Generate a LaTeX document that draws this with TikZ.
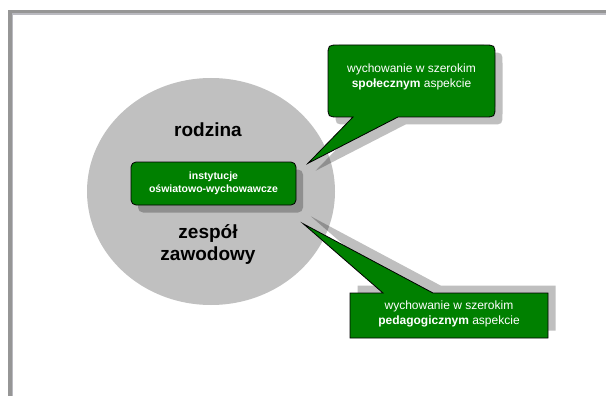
\documentclass[tikz,border=0pt]{standalone}
\usepackage{fontspec}
\setmainfont{Liberation Sans}
\usetikzlibrary{shapes.geometric,shadows}
\definecolor{pgreen}{RGB}{0,128,0}
\definecolor{cgray}{RGB}{192,192,192}
\definecolor{fgray}{RGB}{150,150,150}
\definecolor{flight}{RGB}{186,186,192}
\begin{document}
\begin{tikzpicture}[x=1pt,y=-1pt,
  framebar/.style={fill=fgray},
  framelight/.style={fill=flight},
  bigcircle/.style={ellipse, fill=cgray, draw=none, inner sep=0pt,
    minimum width=248pt, minimum height=227pt},
  shadowfill/.style={fill=black, fill opacity=0.25},
  callout/.style={fill=pgreen, draw=black, line width=0.8pt, line join=miter},
  ctext/.style={anchor=base, text=white, inner sep=0pt,
    font=\fontsize{12}{14}\selectfont},
  biglabel/.style={anchor=base, inner sep=0pt, text=black,
    font=\bfseries\fontsize{19}{22}\selectfont},
  innerbox/.style={rounded corners=5pt, fill=pgreen, draw=black, line width=0.8pt,
    minimum width=165pt, minimum height=43pt, inner sep=0pt, text=white,
    align=center, font=\bfseries\fontsize{10.5}{13.4}\selectfont,
    drop shadow={shadow xshift=7pt, shadow yshift=-7.5pt, fill=black, opacity=0.25}}
]
\useasboundingbox (0,0) rectangle (606,396);
\fill[white] (0,0) rectangle (606,396);
% frame
\fill[framebar] (8,10) rectangle (606,13.5);
\fill[framebar] (8,10) rectangle (12,396);
\fill[framelight] (12,13.5) rectangle (606,15);
\fill[framelight] (12,13.5) rectangle (13.2,396);
% circle
\node[bigcircle] (circ) at (211,191.5) {};
% top callout shadow and shape
\fill[shadowfill, shift={(7.5,7.5)}] (353,117) -- (308,163.3) -- (398,117) -- (484,117)
  .. controls (495,117) .. (495,106) -- (495,56) .. controls (495,45) .. (484,45)
  -- (339,45) .. controls (328,45) .. (328,56) -- (328,106) .. controls (328,117) .. (339,117) -- cycle;
\path[callout] (353,117) -- (308,163.3) -- (398,117) -- (484,117)
  .. controls (495,117) .. (495,106) -- (495,56) .. controls (495,45) .. (484,45)
  -- (339,45) .. controls (328,45) .. (328,56) -- (328,106) .. controls (328,117) .. (339,117) -- cycle;
% bottom callout shadow and shape
\fill[shadowfill, shift={(7.5,-7.5)}] (350,293) -- (383,293) -- (303.3,223.8) -- (433,293)
  -- (548,293) -- (548,338) -- (350,338) -- cycle;
\path[callout] (350,293) -- (383,293) -- (303.3,223.8) -- (433,293)
  -- (548,293) -- (548,338) -- (350,338) -- cycle;
% inner box
\node[innerbox] (inst) at (213.5,183.5) {instytucje\\oświatowo-wychowawcze};
% labels
\node[biglabel] (rodz) at (208,136.7) {rodzina};
\node[biglabel] (zesp) at (208,238.3) {zespół};
\node[biglabel] (zawo) at (208,260.3) {zawodowy};
% callout texts
\node[ctext] (t1a) at (411.5,72.7) {wychowanie w szerokim};
\node[ctext] (t1b) at (411.5,87.7) {\textbf{społecznym} aspekcie};
\node[ctext] (t2a) at (449,309.3) {wychowanie w szerokim};
\node[ctext] (t2b) at (449,324) {\textbf{pedagogicznym} aspekcie};
\end{tikzpicture}
\end{document}
